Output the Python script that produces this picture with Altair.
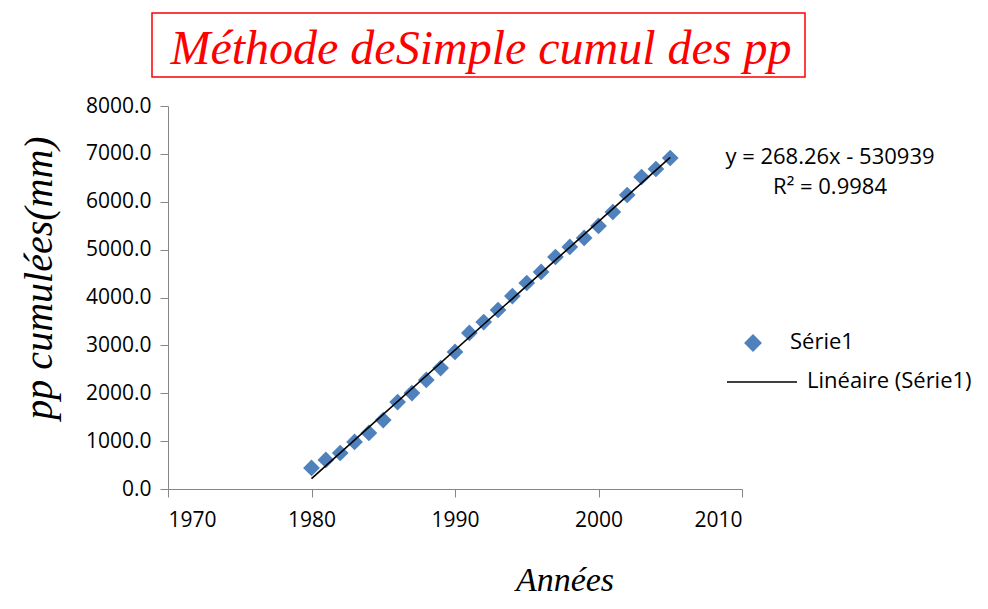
import altair as alt
import pandas as pd

# ---- data ----
years = list(range(1980, 2006))
cumul = [439, 606, 752, 982, 1170, 1441, 1817, 2005, 2277, 2527, 2862, 3259, 3488,
         3739, 4031, 4303, 4533, 4846, 5055, 5243, 5494, 5786, 6141, 6517, 6684, 6914]
x_ticks = [1970, 1980, 1990, 2000, 2010]
y_ticks = [0, 1000, 2000, 3000, 4000, 5000, 6000, 7000, 8000]
title_text = "Méthode deSimple cumul des pp"
x_title = "Années"
y_title = "pp cumulées(mm)"
eq_line1 = "y = 268.26x - 530939"
eq_line2 = "R² = 0.9984"
legend_points = "Série1"
legend_line = "Linéaire (Série1)"

df = pd.DataFrame({"Année": years, "pp": cumul})
one = pd.DataFrame({"k": [0]})

W, H = 574, 383
BLUE = "#4F81BD"
LABEL_FONT = "Open Sans"
SERIF = "Liberation Serif"

xenc = alt.X("Année:Q",
             scale=alt.Scale(domain=[1970, 2010], nice=False, zero=False),
             axis=alt.Axis(values=x_ticks, format="d", title=None, grid=False,
                           domainColor="#868686", tickColor="#868686", tickSize=8,
                           labelFont=LABEL_FONT, labelFontSize=21, labelColor="#000000",
                           labelPadding=12))
yenc = alt.Y("pp:Q",
             scale=alt.Scale(domain=[0, 8000], nice=False),
             axis=alt.Axis(values=y_ticks, format=".1f", title=None, grid=False,
                           domainColor="#868686", tickColor="#868686", tickSize=8,
                           labelFont=LABEL_FONT, labelFontSize=21, labelColor="#000000",
                           labelPadding=9))

points = alt.Chart(df).mark_point(shape="diamond", filled=True, size=280,
                                  color=BLUE, opacity=1).encode(x=xenc, y=yenc)

trend = alt.Chart(df).transform_regression("Année", "pp").mark_line(
    color="#000000", strokeWidth=1.6).encode(x="Année:Q", y="pp:Q")

base1 = alt.Chart(one)

title_box = base1.mark_rect(fillOpacity=0, stroke="#FF0000", strokeWidth=1.5).encode(
    x=alt.value(-16), x2=alt.value(637), y=alt.value(-93), y2=alt.value(-29))
title_mark = base1.mark_text(font=SERIF, fontStyle="italic", fontSize=48,
                             color="#FF0000", align="center", baseline="alphabetic").encode(
    x=alt.value(313), y=alt.value(-42), text=alt.value(title_text))

eq1 = base1.mark_text(font=LABEL_FONT, fontSize=22, color="#000000",
                      align="center", baseline="middle").encode(
    x=alt.value(662), y=alt.value(51), text=alt.value(eq_line1))
eq2 = base1.mark_text(font=LABEL_FONT, fontSize=22, color="#000000",
                      align="center", baseline="middle").encode(
    x=alt.value(662), y=alt.value(81), text=alt.value(eq_line2))

leg_sym = base1.mark_point(shape="diamond", filled=True, size=320, color=BLUE,
                           opacity=1).encode(x=alt.value(585), y=alt.value(237))
leg_txt1 = base1.mark_text(font=LABEL_FONT, fontSize=22, color="#000000",
                           align="left", baseline="middle").encode(
    x=alt.value(622), y=alt.value(236), text=alt.value(legend_points))
leg_line = base1.mark_rule(color="#000000", strokeWidth=1.5).encode(
    x=alt.value(559), x2=alt.value(629), y=alt.value(276))
leg_txt2 = base1.mark_text(font=LABEL_FONT, fontSize=22, color="#000000",
                           align="left", baseline="middle").encode(
    x=alt.value(639), y=alt.value(275), text=alt.value(legend_line))

ytitle = base1.mark_text(font=SERIF, fontStyle="italic", fontSize=40, color="#000000",
                         align="center", baseline="middle", angle=270).encode(
    x=alt.value(-128), y=alt.value(172), text=alt.value(y_title))
xtitle = base1.mark_text(font=SERIF, fontStyle="italic", fontSize=34, color="#000000",
                         align="center", baseline="alphabetic").encode(
    x=alt.value(397), y=alt.value(485), text=alt.value(x_title))

chart = alt.layer(points, trend, title_box, title_mark, eq1, eq2, leg_sym, leg_txt1,
                  leg_line, leg_txt2, ytitle, xtitle).properties(
    width=W, height=H,
    autosize=alt.AutoSizeParams(type="none"),
    padding={"left": 160, "top": 98, "right": 238, "bottom": 112},
    background="white",
).configure_view(stroke=None)

chart.save("out.html", embed_options={"renderer": "svg", "actions": False})
